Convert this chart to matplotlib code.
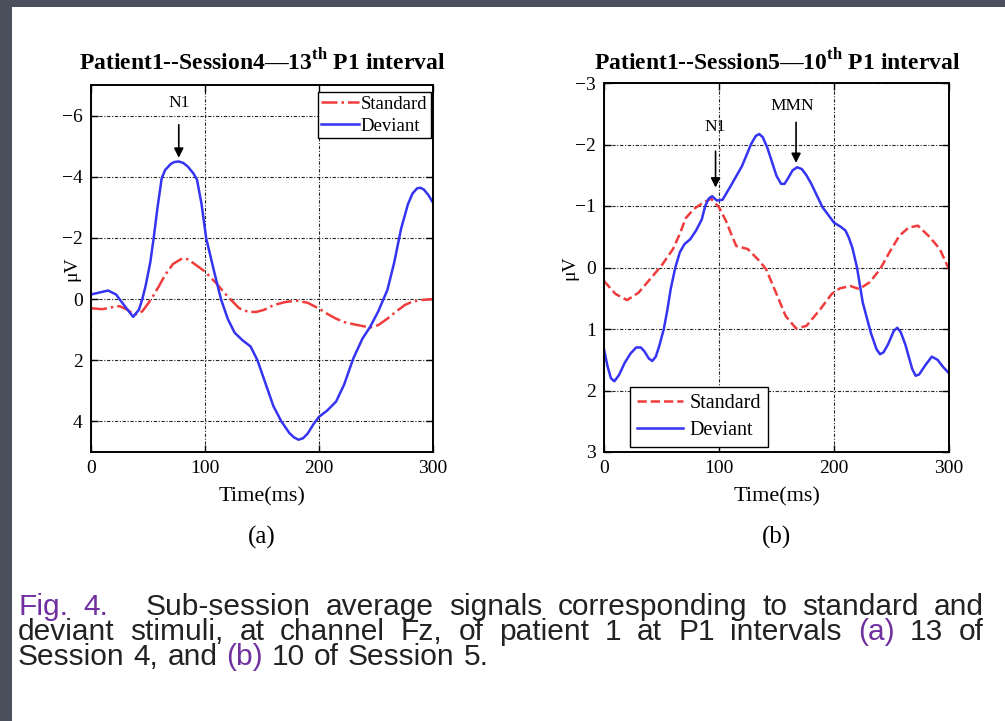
"""Sub-session average ERP signals, standard vs deviant, two P1 intervals."""

import matplotlib

matplotlib.use("Agg")
import matplotlib.pyplot as plt
from matplotlib.patches import Rectangle

plt.rcParams["font.family"] = ["Liberation Serif", "DejaVu Serif"]
plt.rcParams["mathtext.fontset"] = "custom"
plt.rcParams["mathtext.rm"] = "Liberation Serif"
plt.rcParams["mathtext.bf"] = "Liberation Serif:bold"
plt.rcParams["axes.unicode_minus"] = True

# ---- panel (a): Patient1, Session4, 13th P1 interval ----
a_dev_t = [0, 8, 15, 22, 30, 37, 42, 45, 48, 52, 55, 58, 62, 65, 70, 73, 77, 81,
           85, 90, 93, 97, 101, 108, 114, 120, 126, 133, 140, 146, 153, 160, 167,
           174, 178, 182, 186, 190, 195, 200, 207, 215, 222, 230, 238, 245, 252,
           260, 266, 272, 278, 282, 286, 289, 292, 296, 300]
a_dev_v = [-0.15, -0.22, -0.28, -0.15, 0.25, 0.58, 0.35, 0.0, -0.45, -1.2, -2.0,
           -2.9, -3.95, -4.22, -4.42, -4.48, -4.5, -4.45, -4.33, -4.1, -3.9, -3.1,
           -2.0, -0.9, 0.0, 0.65, 1.1, 1.35, 1.55, 2.0, 2.75, 3.5, 4.0, 4.38,
           4.52, 4.6, 4.55, 4.4, 4.1, 3.85, 3.65, 3.35, 2.8, 1.95, 1.3, 0.9, 0.4,
           -0.3, -1.2, -2.3, -3.1, -3.45, -3.62, -3.64, -3.58, -3.4, -3.15]
a_std_t = [0, 10, 18, 25, 32, 38, 45, 50, 55, 60, 65, 72, 80, 85, 90, 100, 110,
           120, 130, 138, 145, 152, 160, 170, 180, 190, 200, 208, 215, 222, 230,
           238, 245, 252, 260, 268, 275, 282, 290, 300]
a_std_v = [0.3, 0.33, 0.27, 0.23, 0.35, 0.52, 0.4, 0.15, -0.13, -0.45, -0.79,
           -1.15, -1.33, -1.3, -1.17, -0.9, -0.51, -0.08, 0.3, 0.42, 0.42, 0.35,
           0.2, 0.1, 0.05, 0.12, 0.31, 0.5, 0.64, 0.75, 0.82, 0.88, 0.93, 0.85,
           0.64, 0.4, 0.2, 0.08, 0.03, 0.0]

# ---- panel (b): Patient1, Session5, 10th P1 interval ----
b_dev_t = [0, 3, 6, 9, 13, 18, 23, 28, 32, 35, 39, 42, 45, 48, 52, 55, 58, 62,
           66, 70, 75, 80, 85, 88, 91, 94, 98, 103, 110, 120, 128, 132, 135, 138,
           142, 150, 154, 157, 160, 164, 168, 172, 176, 180, 190, 200, 206, 210,
           213, 216, 220, 225, 232, 237, 240, 243, 247, 252, 255, 258, 262, 268,
           271, 274, 279, 285, 290, 295, 300]
b_dev_v = [1.33, 1.6, 1.8, 1.85, 1.75, 1.55, 1.4, 1.3, 1.3, 1.36, 1.48, 1.52,
           1.45, 1.28, 1.0, 0.7, 0.35, 0.0, -0.25, -0.38, -0.46, -0.6, -0.78,
           -1.0, -1.12, -1.16, -1.09, -1.1, -1.32, -1.65, -2.01, -2.14, -2.17,
           -2.12, -1.95, -1.49, -1.36, -1.36, -1.45, -1.58, -1.63, -1.6, -1.5,
           -1.37, -0.98, -0.73, -0.66, -0.6, -0.48, -0.32, 0.0, 0.57, 1.06, 1.33,
           1.41, 1.38, 1.25, 1.03, 0.98, 1.05, 1.25, 1.65, 1.76, 1.74, 1.6, 1.45,
           1.5, 1.62, 1.72]
b_std_t = [0, 10, 20, 30, 40, 50, 60, 66, 71, 78, 85, 93, 100, 106, 112, 115, 125,
           135, 141, 150, 158, 167, 176, 188, 198, 205, 214, 222, 231, 240, 248,
           257, 265, 273, 283, 292, 300]
b_std_v = [0.22, 0.43, 0.53, 0.41, 0.19, -0.03, -0.3, -0.55, -0.8, -0.95, -1.04,
           -1.12, -0.98, -0.76, -0.48, -0.35, -0.3, -0.11, 0.03, 0.43, 0.79, 0.99,
           0.95, 0.68, 0.43, 0.34, 0.3, 0.35, 0.24, 0.03, -0.24, -0.52, -0.65,
           -0.68, -0.5, -0.3, 0.03]

titles = ["Patient1--Session4\u201413$^{\\mathbf{th}}$ P1 interval",
          "Patient1--Session5\u201410$^{\\mathbf{th}}$ P1 interval"]
a_yticks = [-6, -4, -2, 0, 2, 4]
b_yticks = [-3, -2, -1, 0, 1, 2, 3]
xticks = [0, 100, 200, 300]

RED = "#f03c3c"
BLUE = "#3434f2"
PURPLE = "#7030a0"
INK = "#222222"

W, H = 1005, 721
fig = plt.figure(figsize=(W / 100, H / 100), dpi=100)

# screenshot frame (dark border on the left and top)
fig.patches.append(Rectangle((0, 0), 12 / W, 1, transform=fig.transFigure,
                             facecolor="#4b515c", edgecolor="none", zorder=-5))
fig.patches.append(Rectangle((0, 1 - 7 / H), 1, 7 / H, transform=fig.transFigure,
                             facecolor="#4b515c", edgecolor="none", zorder=-5))


def px_axes(left, top, right, bottom):
    return fig.add_axes([left / W, 1 - bottom / H, (right - left) / W, (bottom - top) / H])


def style_axes(ax, ylim, yticks, ylabel_x):
    ax.set_xlim(0, 300)
    ax.set_ylim(ylim)
    ax.set_xticks(xticks)
    ax.set_yticks(yticks)
    ax.grid(True, color="0.15", ls=(0, (3, 1.5, 1, 1.5)), lw=0.8)
    ax.tick_params(direction="in", top=True, right=True, length=5, width=1,
                   labelsize=14, pad=6)
    for s in ax.spines.values():
        s.set_linewidth(1.4)
    ax.set_xlabel("Time(ms)", fontsize=16)
    ax.xaxis.set_label_coords(0.5, -0.095)
    ax.set_ylabel("\u03bcV", fontsize=14)
    ax.yaxis.set_label_coords(ylabel_x, 0.5)


def arrow(ax, x, y0, y1):
    ax.annotate("", xy=(x, y1), xytext=(x, y0),
                arrowprops=dict(arrowstyle="-|>", color="k", lw=1.2,
                                mutation_scale=14, shrinkA=0, shrinkB=0))


# panel (a)
ax1 = px_axes(91, 85, 433, 452)
ax1.plot(a_std_t, a_std_v, color=RED, ls="-.", lw=1.8, label="Standard")
ax1.plot(a_dev_t, a_dev_v, color=BLUE, lw=1.8, label="Deviant")
style_axes(ax1, (5, -7), a_yticks, -0.032)
leg = ax1.legend(loc="upper right", bbox_to_anchor=(0.994, 0.981), borderaxespad=0,
                 fontsize=13.5, handlelength=2.0, handletextpad=0.1, borderpad=0.2,
                 labelspacing=0.25, fancybox=False, framealpha=1, edgecolor="k")
leg.get_frame().set_linewidth(1.0)
arrow(ax1, 77, -5.7, -4.62)
ax1.text(77, -6.4, "N1", ha="center", va="center", fontsize=12.5)
fig.text(262 / W, 1 - 62 / H, titles[0], ha="center", va="center",
         fontsize=17, fontweight="bold")

# panel (b)
ax2 = px_axes(604, 83, 949, 452)
ax2.plot(b_std_t, b_std_v, color=RED, ls="--", lw=1.8, label="Standard")
ax2.plot(b_dev_t, b_dev_v, color=BLUE, lw=1.8, label="Deviant")
style_axes(ax2, (3, -3), b_yticks, -0.074)
leg = ax2.legend(loc="lower left", bbox_to_anchor=(0.075, 0.0136), borderaxespad=0,
                 fontsize=14.5, handlelength=2.3, handletextpad=0.3, borderpad=0.35,
                 labelspacing=0.4, fancybox=False, framealpha=1, edgecolor="k")
leg.get_frame().set_linewidth(1.0)
arrow(ax2, 97, -1.89, -1.3)
ax2.text(97, -2.28, "N1", ha="center", va="center", fontsize=12.5)
arrow(ax2, 167, -2.36, -1.7)
ax2.text(164, -2.62, "MMN", ha="center", va="center", fontsize=12.5)
fig.text(777 / W, 1 - 62 / H, titles[1], ha="center", va="center",
         fontsize=17, fontweight="bold")

fig.text(262 / W, 1 - 537 / H, "(a)", ha="center", va="center", fontsize=18)
fig.text(776 / W, 1 - 537 / H, "(b)", ha="center", va="center", fontsize=18)

# ---- caption, justified like the slide text ----
cap_lines = [
    [("Fig.", PURPLE), ("4.", PURPLE), ("", INK), ("Sub-session", INK), ("average", INK),
     ("signals", INK), ("corresponding", INK), ("to", INK), ("standard", INK), ("and", INK)],
    [("deviant", INK), ("stimuli,", INK), ("at", INK), ("channel", INK), ("Fz,", INK),
     ("of", INK), ("patient", INK), ("1", INK), ("at", INK), ("P1", INK),
     ("intervals", INK), ("(a)", PURPLE), ("13", INK), ("of", INK)],
    [("Session", INK), ("4,", INK), ("and", INK), ("(b)", PURPLE), ("10", INK),
     ("of", INK), ("Session", INK), ("5.", INK)],
]
cap_base = [615, 640, 665]
cap_left, cap_right = 18, 984
cap_size = 21.5
spacer_px = 22     # the wider break after "Fig. 4."

renderer = fig.canvas.get_renderer()
for i, (words, base) in enumerate(zip(cap_lines, cap_base)):
    items = []
    for w, c in words:
        t = fig.text(0, 1 - base / H, w, fontsize=cap_size, color=c,
                     family="Liberation Sans", ha="left", va="baseline")
        items.append(t)
    widths = [t.get_window_extent(renderer).width if t.get_text() else spacer_px
              for t in items]
    n_gaps = sum(1 for t in items[:-1] if t.get_text())
    if i < len(cap_lines) - 1:
        gap = (cap_right - cap_left - sum(widths)) / n_gaps
    else:
        gap = 0.3 * cap_size * 100 / 72
    x = cap_left
    for t, wpx in zip(items, widths):
        t.set_x(x / W)
        x += wpx + (gap if t.get_text() else 0)

fig.savefig("out.png", dpi=100, facecolor="white")
